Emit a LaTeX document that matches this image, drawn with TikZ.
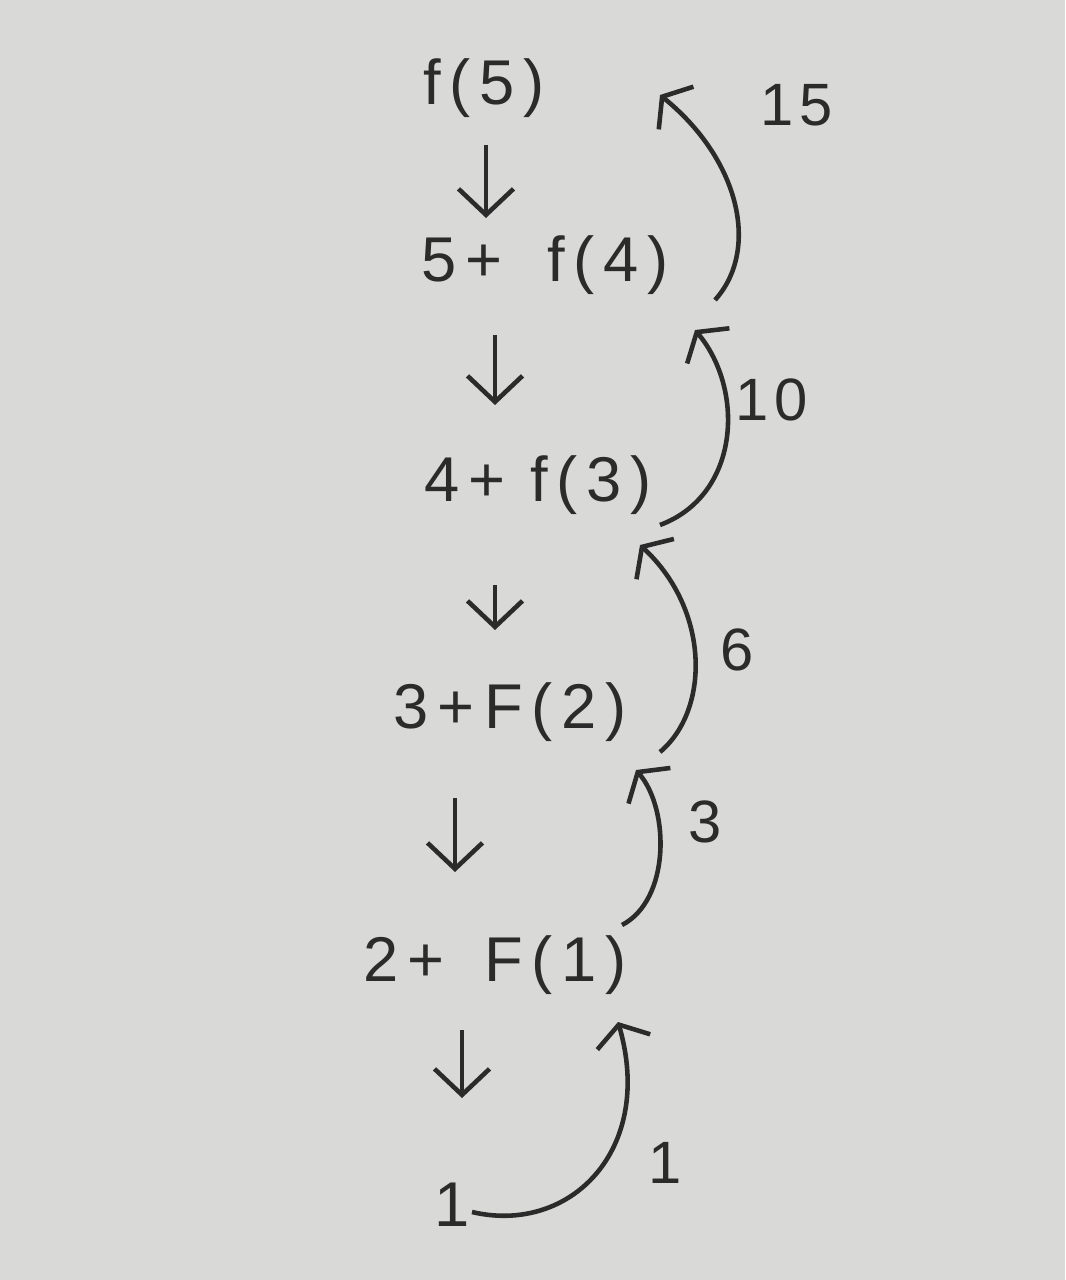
\documentclass[tikz,border=0pt]{standalone}
\usepackage{fontspec}
\setmainfont{Liberation Sans}
\usetikzlibrary{arrows.meta}
\definecolor{paper}{HTML}{D9D9D7}
\definecolor{ink}{HTML}{2B2B2B}
\tikzset{
  expr/.style={text=ink, font=\fontsize{18}{22}\selectfont\addfontfeature{LetterSpace=14}, inner sep=1pt},
  lbl/.style={text=ink, font=\fontsize{17}{20}\selectfont\addfontfeature{LetterSpace=10}, inner sep=1pt},
  down/.style={draw=ink, line width=1.3pt, -{Straight Barb[length=2.6mm,width=5.5mm,line width=1.3pt]}},
  back/.style={draw=ink, line width=1.3pt, -{Straight Barb[length=1.8mm,width=5.5mm,line width=1.3pt]}}
}
\begin{document}
\begin{tikzpicture}
\fill[paper] (0,0) rectangle (10.65,-12.8);
\useasboundingbox (0,0) rectangle (10.65,-12.8);
% expressions
\node[expr] (f5) at (4.84,-0.88) {f(5)};
\node[expr] (n4) at (5.45,-2.65) {5+\hspace{0.45cm}f(4)};
\node[expr] (n3) at (5.38,-4.85) {4+\hspace{0.25cm}f(3)};
\node[expr] (n2) at (5.1,-7.12) {3+\hspace{0.1cm}F(2)};
\node[expr] (n1) at (4.95,-9.65) {2+\hspace{0.4cm}F(1)};
\node[expr] (n0) at (4.52,-12.05) {1};
% down arrows
\coordinate (d1a) at (4.86,-1.45); \coordinate (d1b) at (4.86,-2.18);
\coordinate (d2a) at (4.95,-3.35); \coordinate (d2b) at (4.95,-4.05);
\coordinate (d3a) at (4.95,-5.85); \coordinate (d3b) at (4.95,-6.3);
\coordinate (d4a) at (4.55,-7.98); \coordinate (d4b) at (4.55,-8.72);
\coordinate (d5a) at (4.62,-10.3); \coordinate (d5b) at (4.62,-10.98);
\draw[down] (d1a) -- (d1b);
\draw[down] (d2a) -- (d2b);
\draw[down] (d3a) -- (d3b);
\draw[down] (d4a) -- (d4b);
\draw[down] (d5a) -- (d5b);
% return arcs
\coordinate (r1a) at (4.72,-12.12); \coordinate (r1b) at (6.18,-10.22);
\coordinate (r2a) at (6.22,-9.25); \coordinate (r2b) at (6.36,-7.7);
\coordinate (r3a) at (6.6,-7.52); \coordinate (r3b) at (6.4,-5.45);
\coordinate (r4a) at (6.6,-5.25); \coordinate (r4b) at (6.95,-3.3);
\coordinate (r5a) at (7.15,-3.0); \coordinate (r5b) at (6.6,-0.95);
\draw[back] (r1a) .. controls (5.7,-12.35) and (6.55,-11.5) .. (r1b);
\draw[back] (r2a) .. controls (6.7,-9.0) and (6.7,-8.1) .. (r2b);
\draw[back] (r3a) .. controls (7.1,-7.1) and (7.1,-6.1) .. (r3b);
\draw[back] (r4a) .. controls (7.4,-4.95) and (7.45,-3.9) .. (r4b);
\draw[back] (r5a) .. controls (7.6,-2.5) and (7.4,-1.6) .. (r5b);
% labels
\node[lbl] (l15) at (7.97,-1.05) {15};
\node[lbl] (l10) at (7.72,-4.0) {10};
\node[lbl] (l6) at (7.37,-6.5) {6};
\node[lbl] (l3) at (7.05,-8.22) {3};
\node[lbl] (l1) at (6.65,-11.63) {1};
\end{tikzpicture}
\end{document}
